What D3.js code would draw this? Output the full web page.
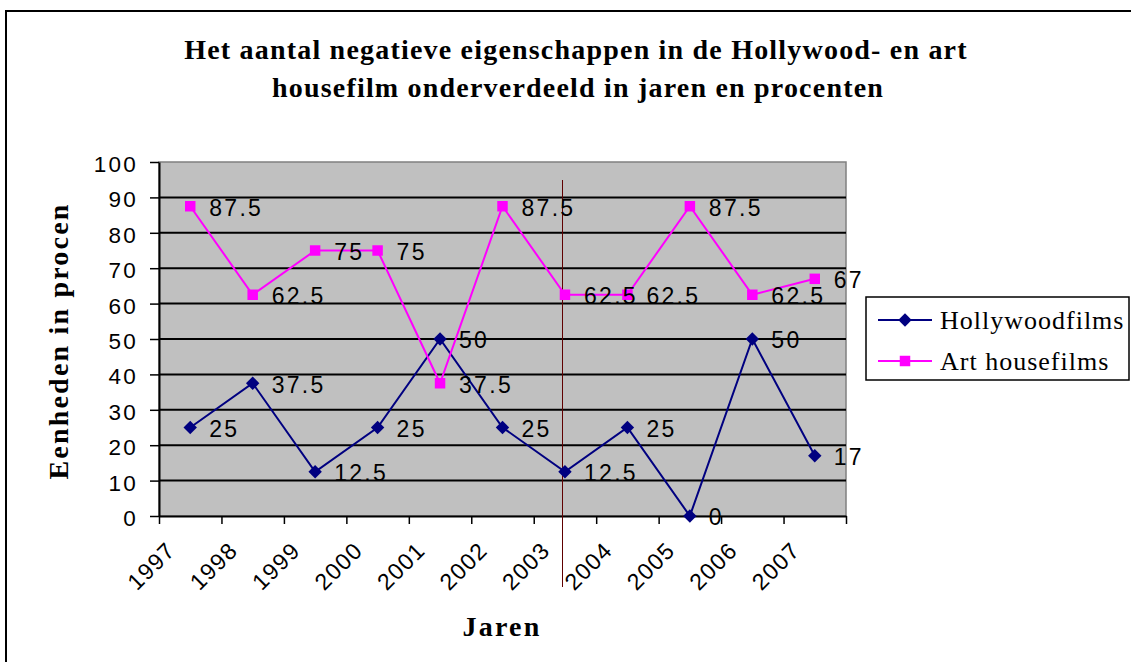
<!DOCTYPE html>
<html>
<head>
<meta charset="utf-8">
<script src="https://cdn.jsdelivr.net/npm/d3@7"></script>
<style>
  html, body { margin: 0; padding: 0; background: #fff; }
  svg { display: block; }
</style>
</head>
<body>
<script>
// Years on the category axis
const years = ["1997", "1998", "1999", "2000", "2001", "2002", "2003", "2004", "2005", "2006", "2007"];
// Percentages per series
const hollywood = [25, 37.5, 12.5, 25, 50, 25, 12.5, 25, 0, 50, 17];
const arthouse = [87.5, 62.5, 75, 75, 37.5, 87.5, 62.5, 62.5, 87.5, 62.5, 67];
const seriesNames = ["Hollywoodfilms", "Art housefilms"];
const yTicks = [0, 10, 20, 30, 40, 50, 60, 70, 80, 90, 100];

const W = 1131, H = 662;
const plot = { left: 159, right: 846, top: 162, bottom: 516 };

const svg = d3.select("body").append("svg").attr("width", W).attr("height", H);

// chart frame (top and left edges)
svg.append("line").attr("x1", 6).attr("x2", W).attr("y1", 11).attr("y2", 11)
  .attr("stroke", "#000").attr("stroke-width", 2);
svg.append("line").attr("x1", 6).attr("x2", 6).attr("y1", 10).attr("y2", H)
  .attr("stroke", "#000").attr("stroke-width", 2);

const x = d3.scaleBand().domain(years).range([plot.left, plot.right]).padding(0);
const xEdge = d3.scaleLinear().domain([0, years.length]).range([plot.left, plot.right]);
const y = d3.scaleLinear().domain([0, 100]).range([plot.bottom, plot.top]);

// plot background
svg.append("rect")
  .attr("x", plot.left).attr("y", plot.top)
  .attr("width", plot.right - plot.left).attr("height", plot.bottom - plot.top)
  .attr("fill", "#c0c0c0").attr("stroke", "#808080").attr("stroke-width", 1.5);

// horizontal gridlines
svg.append("g").selectAll("line").data(yTicks.filter(d => d > 0 && d < 100)).join("line")
  .attr("x1", plot.left).attr("x2", plot.right)
  .attr("y1", d => y(d)).attr("y2", d => y(d))
  .attr("stroke", "#000").attr("stroke-width", 2);

// y axis
const yAxis = svg.append("g").attr("transform", `translate(${plot.left},0)`)
  .call(d3.axisLeft(y).tickValues(yTicks).tickSize(9).tickPadding(12).tickSizeOuter(0));
yAxis.select(".domain").attr("stroke", "#000").attr("stroke-width", 2);
yAxis.selectAll(".tick line").attr("stroke", "#000").attr("stroke-width", 1.5);
yAxis.selectAll(".tick text")
  .attr("font-family", "Arial, 'Liberation Sans', sans-serif")
  .attr("font-size", 22.5).attr("fill", "#000")
  .attr("letter-spacing", 2.2).attr("dy", "0.42em");

// x axis: ticks on category boundaries
const xAxis = svg.append("g").attr("transform", `translate(0,${plot.bottom})`)
  .call(d3.axisBottom(xEdge).tickValues(d3.range(0, years.length + 1)).tickSize(8).tickFormat("").tickSizeOuter(0));
xAxis.select(".domain").attr("stroke", "#000").attr("stroke-width", 2);
xAxis.selectAll(".tick line").attr("stroke", "#000").attr("stroke-width", 1.5);

// rotated year labels
svg.append("g").selectAll("text").data(years).join("text")
  .attr("transform", d => `translate(${x(d) + x.bandwidth() / 2 - 39},566) rotate(-45)`)
  .attr("text-anchor", "middle").attr("dominant-baseline", "central")
  .attr("font-family", "Arial, 'Liberation Sans', sans-serif")
  .attr("font-size", 23).attr("letter-spacing", 1.3).attr("fill", "#000")
  .text(d => d);

// thin marker line
svg.append("line").attr("x1", 562.5).attr("x2", 562.5).attr("y1", 180).attr("y2", 587)
  .attr("stroke", "#600000").attr("stroke-width", 1);

const cx = d => x(d) + x.bandwidth() / 2;
const series = [
  { name: seriesNames[0], values: hollywood, color: "#000080", shape: d3.symbolSquare, size: 90, rotate: 45 },
  { name: seriesNames[1], values: arthouse, color: "#ff00ff", shape: d3.symbolSquare, size: 110, rotate: 0 }
];

const line = d3.line().x((d, i) => cx(years[i])).y(d => y(d));

series.forEach(s => {
  const g = svg.append("g");
  g.append("path").datum(s.values).attr("d", line)
    .attr("fill", "none").attr("stroke", s.color).attr("stroke-width", 2);
  g.selectAll("path.m").data(s.values).join("path").attr("class", "m")
    .attr("transform", (d, i) => `translate(${cx(years[i])},${y(d)}) rotate(${s.rotate})`)
    .attr("d", d3.symbol().type(s.shape).size(s.size))
    .attr("fill", s.color);
});

// value labels
series.forEach(s => {
  svg.append("g").selectAll("text").data(s.values).join("text")
    .attr("x", (d, i) => cx(years[i]) + 19)
    .attr("y", d => y(d) + 1)
    .attr("dy", "0.36em")
    .attr("font-family", "Arial, 'Liberation Sans', sans-serif")
    .attr("font-size", 23).attr("letter-spacing", 2.3).attr("fill", "#000")
    .text(d => d);
});

// title
const title = svg.append("text")
  .attr("text-anchor", "middle")
  .attr("font-family", "'Times New Roman', 'Liberation Serif', serif")
  .attr("font-weight", "bold").attr("font-size", 28).attr("letter-spacing", 1.2);
title.append("tspan").attr("x", 576).attr("y", 59).text("Het aantal negatieve eigenschappen in de Hollywood- en art");
title.append("tspan").attr("x", 578).attr("y", 97).text("housefilm onderverdeeld in jaren en procenten");

// axis titles
svg.append("text")
  .attr("transform", "translate(68,341) rotate(-90)")
  .attr("text-anchor", "middle")
  .attr("font-family", "'Times New Roman', 'Liberation Serif', serif")
  .attr("font-weight", "bold").attr("font-size", 28).attr("letter-spacing", 2.2)
  .text("Eenheden in procen");

svg.append("text")
  .attr("x", 502).attr("y", 636)
  .attr("text-anchor", "middle")
  .attr("font-family", "'Times New Roman', 'Liberation Serif', serif")
  .attr("font-weight", "bold").attr("font-size", 28).attr("letter-spacing", 2.2)
  .text("Jaren");

// legend
const legend = svg.append("g");
legend.append("rect").attr("x", 866).attr("y", 297).attr("width", 263).attr("height", 83)
  .attr("fill", "#fff").attr("stroke", "#000").attr("stroke-width", 1.5);
series.forEach((s, i) => {
  const ly = 320 + i * 41;
  legend.append("line").attr("x1", 878).attr("x2", 932).attr("y1", ly).attr("y2", ly)
    .attr("stroke", s.color).attr("stroke-width", 2);
  legend.append("path").attr("transform", `translate(905,${ly}) rotate(${s.rotate})`)
    .attr("d", d3.symbol().type(s.shape).size(s.size)).attr("fill", s.color);
  legend.append("text").attr("x", 940).attr("y", ly + 9)
    .attr("font-family", "'Times New Roman', 'Liberation Serif', serif")
    .attr("font-size", 26).attr("letter-spacing", 1).attr("fill", "#000")
    .text(s.name);
});
</script>
</body>
</html>
